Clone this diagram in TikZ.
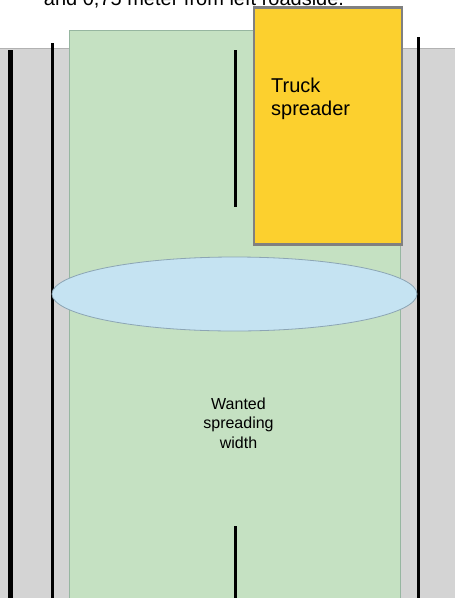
\documentclass[tikz,border=0pt]{standalone}
\usepackage{fontspec}
\setmainfont{Liberation Sans}
\usetikzlibrary{shapes.geometric}
\definecolor{roadgrey}{RGB}{212,212,212}
\definecolor{roadedge}{RGB}{178,178,178}
\definecolor{lanegreen}{RGB}{197,225,194}
\definecolor{laneedge}{RGB}{150,182,160}
\definecolor{truckyellow}{RGB}{252,208,46}
\definecolor{truckedge}{RGB}{128,128,128}
\definecolor{spreadblue}{RGB}{197,227,242}
\definecolor{spreadedge}{RGB}{140,165,180}
\tikzset{
  roadline/.style={line width=3pt, black},
  edgeline/.style={line width=5pt, black},
  labeltext/.style={inner sep=0pt, text=black}
}
\begin{document}
\begin{tikzpicture}[x=1pt,y=-1pt]
\useasboundingbox (0,0) rectangle (455,598);
% road
\fill[roadgrey] (0,48) rectangle (455,598);
\draw[roadedge, line width=0.8pt] (0,48) -- (455,48);
% spread lane
\filldraw[fill=lanegreen, draw=laneedge, line width=0.8pt] (69,30) rectangle (400.5,600);
% lines
\coordinate (lt) at (10.5,50); \coordinate (lb) at (10.5,598);
\coordinate (mt) at (52,43); \coordinate (mb) at (52,598);
\coordinate (rt) at (418,37); \coordinate (rb) at (418,598);
\coordinate (ct) at (235,50); \coordinate (cb) at (235,207);
\coordinate (dt) at (235,526); \coordinate (db) at (235,598);
\draw[edgeline] (lt) -- (lb);
\draw[roadline] (mt) -- (mb);
\draw[roadline] (rt) -- (rb);
\draw[roadline] (ct) -- (cb);
\draw[roadline] (dt) -- (db);
% spreading ellipse
\node[ellipse, fill=spreadblue, draw=spreadedge, line width=0.8pt, minimum width=365, minimum height=74, inner sep=0pt] (spread) at (234.5,294) {};
% truck
\filldraw[fill=truckyellow, draw=truckedge, line width=2.5pt] (254,7.5) rectangle (402,244.5);
\node[labeltext, anchor=base west, align=left, font=\fontsize{20}{23}\selectfont] (truck) at (271,115) {Truck\\spreader};
% label
\node[labeltext, anchor=base, align=center, font=\fontsize{16}{19.5}\selectfont] (wanted) at (238.5,448) {Wanted\\spreading\\width};
% cut-off title
\node[labeltext, anchor=base, font=\fontsize{20}{24}\selectfont] (title) at (194,5.5) {and 0,75 meter from left roadside.};
\end{tikzpicture}
\end{document}
